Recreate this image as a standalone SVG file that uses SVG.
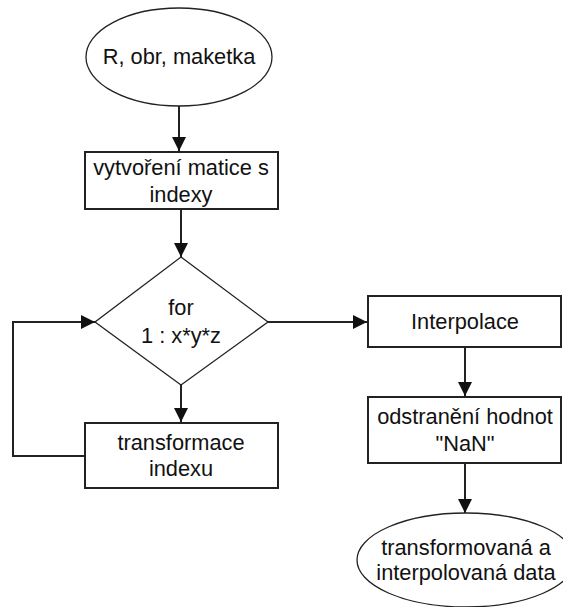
<svg xmlns="http://www.w3.org/2000/svg" width="563" height="607" viewBox="0 0 563 607">
<style>
.bg{fill:#fff}
.box{fill:#fff;stroke:#222;stroke-width:2}
.thin{fill:#fff;stroke:#222;stroke-width:1.3}
.lbl{font-family:"Liberation Sans",Arial,sans-serif;font-size:21.8px;fill:#111;text-anchor:middle}
.con{fill:none;stroke:#222;stroke-width:2}
</style>
<defs>
<marker id="ah" markerUnits="userSpaceOnUse" markerWidth="14" markerHeight="14" viewBox="0 0 14 14" refX="14" refY="7" orient="auto">
<path d="M0,0 L14,7 L0,14 Z" fill="#111"/>
</marker>
</defs>
<rect class="bg" x="0" y="0" width="563" height="607"/>
<g id="connectors">
<line class="con" x1="179" y1="106" x2="179" y2="151" marker-end="url(#ah)"/>
<line class="con" x1="181" y1="209" x2="181" y2="257" marker-end="url(#ah)"/>
<line class="con" x1="181" y1="385" x2="181" y2="422" marker-end="url(#ah)"/>
<polyline class="con" points="85,456 13,456 13,322 95,322" marker-end="url(#ah)"/>
<line class="con" x1="268" y1="322" x2="367" y2="322" marker-end="url(#ah)"/>
<line class="con" x1="465" y1="347" x2="465" y2="396" marker-end="url(#ah)"/>
<line class="con" x1="465" y1="463" x2="465" y2="513" marker-end="url(#ah)"/>
</g>
<g id="start">
<ellipse class="thin" cx="179" cy="57" rx="93" ry="49"/>
<text class="lbl" x="179" y="64">R, obr, maketka</text>
</g>
<g id="matrix">
<rect class="box" x="85" y="152" width="193" height="57"/>
<text class="lbl" x="181" y="175">vytvoření matice s</text>
<text class="lbl" x="181" y="202">indexy</text>
</g>
<g id="loop">
<polygon class="thin" points="181,257 268,322 181,385 95,322"/>
<text class="lbl" x="181" y="315">for</text>
<text class="lbl" x="181" y="343">1 : x*y*z</text>
</g>
<g id="transform">
<rect class="box" x="85" y="423" width="193" height="65"/>
<text class="lbl" x="181" y="450">transformace</text>
<text class="lbl" x="181" y="476">indexu</text>
</g>
<g id="interp">
<rect class="box" x="368" y="296" width="193" height="51"/>
<text class="lbl" x="465" y="329">Interpolace</text>
</g>
<g id="nan">
<rect class="box" x="368" y="397" width="193" height="66"/>
<text class="lbl" x="465" y="424">odstranění hodnot</text>
<text class="lbl" x="465" y="451">"NaN"</text>
</g>
<g id="end">
<ellipse class="thin" cx="466" cy="560" rx="109" ry="47"/>
<text class="lbl" x="466" y="555">transformovaná a</text>
<text class="lbl" x="466" y="580">interpolovaná data</text>
</g>
</svg>
